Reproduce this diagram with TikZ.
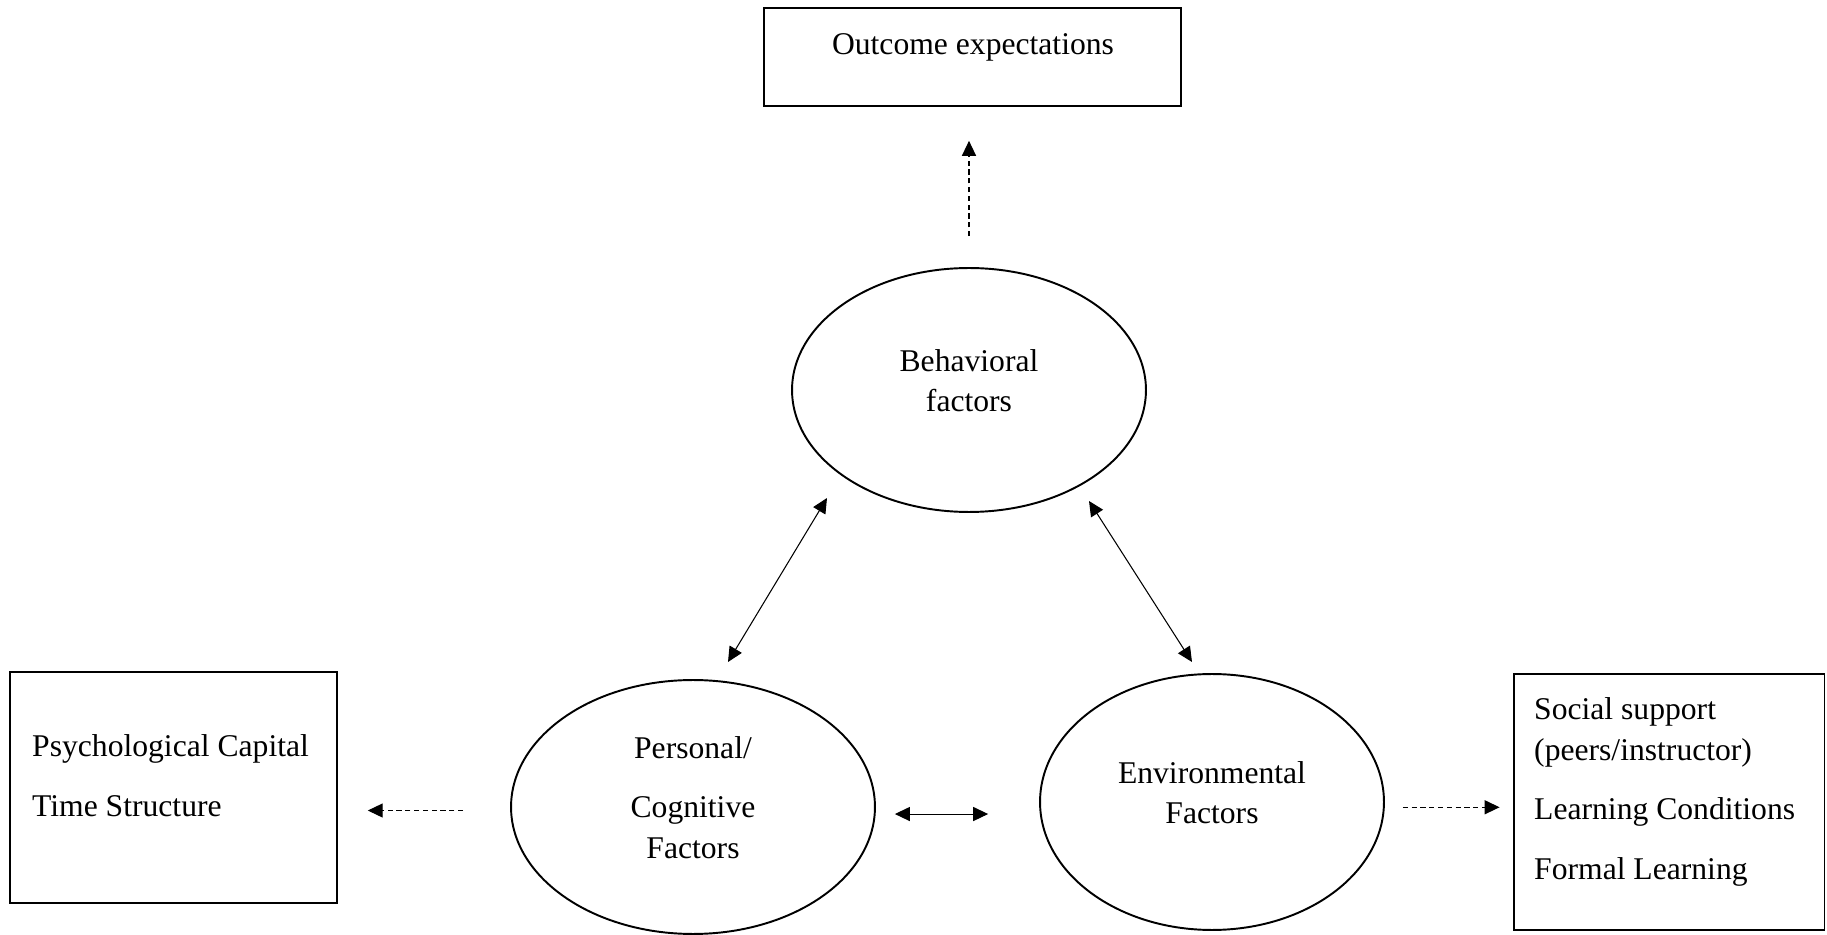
\documentclass[tikz,border=0pt]{standalone}
\usepackage{fontspec}
\setmainfont{Liberation Serif}
\usetikzlibrary{shapes.geometric,arrows.meta}

\begin{document}
\begin{tikzpicture}[x=0.02cm,y=-0.02cm,every node/.style={font=\fontsize{18}{23}\selectfont},
  factor/.style={draw,ellipse,line width=1.1pt,inner sep=0pt,align=center,text depth=11pt},
  box/.style={draw,line width=1.1pt,inner sep=0pt},
  link/.style={{Triangle[length=8.5pt,width=8pt]}-{Triangle[length=8.5pt,width=8pt]},line width=0.6pt},
  dashlink/.style={-{Triangle[length=8.5pt,width=8pt]},dash pattern=on 3pt off 2pt,line width=0.6pt}]
  \useasboundingbox (0,0) rectangle (1827,935);
  % the three factors
  \node[factor,minimum width=7.08cm,minimum height=4.88cm] (behav) at (969,390) {Behavioral\\factors};
  \node[factor,minimum width=7.28cm,minimum height=5.08cm] (person) at (693,807) {Personal/\\[11pt]Cognitive\\Factors};
  \node[factor,minimum width=6.88cm,minimum height=5.12cm] (env) at (1212,802) {Environmental\\Factors};
  % outer boxes
  \node[box,minimum width=8.34cm,minimum height=1.96cm] (outcome) at (972.5,57) {};
  \node (outtext) at (973,47) {Outcome expectations};
  \node[box,minimum width=6.54cm,minimum height=4.62cm] (capbox) at (173.5,787.5) {};
  \node[anchor=west,align=left] (captext) at (26,776) {Psychological Capital\\[11pt]Time Structure};
  \node[box,minimum width=6.22cm,minimum height=5.12cm] (supbox) at (1669,802) {};
  \node[anchor=west,align=left] (suptext) at (1528,792) {Social support\\(peers/instructor)\\[11pt]Learning Conditions\\[11pt]Formal Learning};
  % free ends of the reciprocal links
  \coordinate (bp1) at (827,498); \coordinate (bp2) at (728,662);
  \coordinate (be1) at (1089,501); \coordinate (be2) at (1192,662);
  \draw[link] (bp1) -- (bp2);
  \draw[link] (be1) -- (be2);
  \draw[link,shorten <=10.8pt,shorten >=29pt] ([yshift=-4pt]person.east) -- ([yshift=-4pt]person.east -| env.west);
  % outcomes
  \draw[dashlink,shorten <=17.6pt,shorten >=19.3pt] (behav.north) -- (behav.north |- outcome.south);
  \draw[dashlink,shorten <=26.7pt,shorten >=17pt] ([yshift=-2pt]person.west) -- ([yshift=-2pt]person.west -| capbox.east);
  \draw[dashlink,shorten <=10.2pt,shorten >=7.4pt] ([yshift=-3pt]env.east) -- ([yshift=-3pt]env.east -| supbox.west);
\end{tikzpicture}
\end{document}
